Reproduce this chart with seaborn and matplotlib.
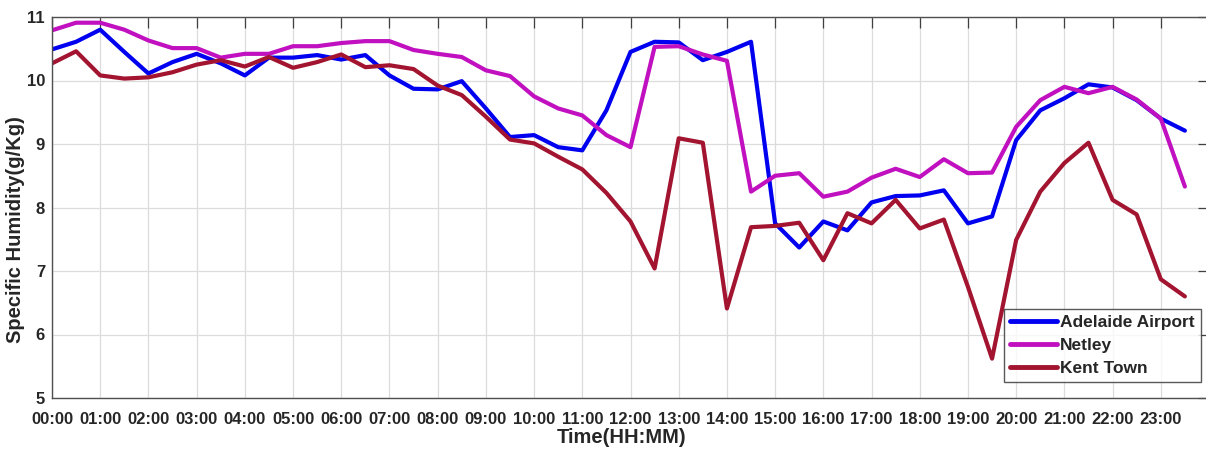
import numpy as np
import pandas as pd
import matplotlib
matplotlib.use('Agg')
import matplotlib.pyplot as plt
import seaborn as sns

# half-hourly readings, 00:00 .. 23:30
hours = np.arange(48) * 0.5

adelaide_airport = [10.49, 10.61, 10.80, 10.45, 10.11, 10.29, 10.42, 10.27, 10.08, 10.36,
                    10.36, 10.40, 10.33, 10.40, 10.08, 9.87, 9.86, 9.99, 9.56, 9.11,
                    9.14, 8.95, 8.90, 9.53, 10.45, 10.61, 10.60, 10.32, 10.45, 10.61,
                    7.75, 7.37, 7.78, 7.64, 8.08, 8.18, 8.19, 8.27, 7.75, 7.86,
                    9.06, 9.53, 9.72, 9.94, 9.89, 9.69, 9.40, 9.21]

netley = [10.79, 10.91, 10.91, 10.80, 10.63, 10.51, 10.51, 10.36, 10.42, 10.42,
          10.54, 10.54, 10.59, 10.62, 10.62, 10.48, 10.42, 10.37, 10.16, 10.07,
          9.75, 9.56, 9.45, 9.14, 8.95, 10.53, 10.54, 10.41, 10.31, 8.25,
          8.50, 8.54, 8.17, 8.25, 8.47, 8.61, 8.48, 8.76, 8.54, 8.55,
          9.27, 9.69, 9.90, 9.80, 9.90, 9.70, 9.40, 8.33]

kent_town = [10.27, 10.46, 10.08, 10.03, 10.05, 10.13, 10.25, 10.32, 10.22, 10.37,
             10.20, 10.29, 10.41, 10.21, 10.24, 10.18, 9.92, 9.77, 9.43, 9.07,
             9.01, 8.80, 8.60, 8.23, 7.78, 7.04, 9.09, 9.02, 6.41, 7.69,
             7.71, 7.76, 7.17, 7.91, 7.75, 8.12, 7.67, 7.81, 6.75, 5.62,
             7.49, 8.25, 8.70, 9.02, 8.12, 7.89, 6.87, 6.60]

stations = ['Adelaide Airport', 'Netley', 'Kent Town']
colors = ['#0000F0', '#C010C0', '#A2142F']
tick_labels = ['%02d:00' % h for h in range(24)]

df = pd.DataFrame({
    'time': np.tile(hours, 3),
    'humidity': adelaide_airport + netley + kent_town,
    'station': np.repeat(stations, len(hours)),
})

sns.set_style('white')
plt.rcParams['font.family'] = ['Liberation Sans', 'DejaVu Sans']
plt.rcParams['font.weight'] = 'bold'

W, H = 1206, 449
fig = plt.figure(figsize=(W / 100, H / 100), dpi=100)
# right spine sits just past the image edge, as in the reference crop
ax = fig.add_axes([52 / W, 1 - 398 / H, (1209 - 52) / W, (398 - 17) / H])

sns.lineplot(data=df, x='time', y='humidity', hue='station', hue_order=stations,
             palette=colors, linewidth=3.0, ax=ax)

ax.set_xlim(0, 24)
ax.set_ylim(5, 11)
ax.set_xticks(range(24))
ax.set_xticklabels(tick_labels)
ax.set_yticks(range(5, 12))
ax.grid(True, color='#dcdcdc', linewidth=0.9)
ax.tick_params(direction='in', length=8, width=0.9, color='#404040',
               top=True, right=True, labelsize=12)
ax.tick_params(axis='x', pad=10)
ax.tick_params(axis='y', pad=5)
for s in ax.spines.values():
    s.set_color('#505050')
    s.set_linewidth(1.0)

ax.set_xlabel('Time(HH:MM)', fontsize=14.5, fontweight='bold')
ax.set_ylabel('Specific Humidity(g/Kg)', fontsize=14.5, fontweight='bold')
ax.xaxis.set_label_coords(0.4927, -0.078)
ax.yaxis.set_label_coords(-0.0235, 0.443)

leg = ax.legend(loc='lower right', bbox_to_anchor=(1201 / W, 1 - 382 / H),
                bbox_transform=fig.transFigure, fontsize=12.5, frameon=True,
                fancybox=False, handlelength=2.7, handletextpad=0.2,
                borderpad=0.35, labelspacing=0.45, borderaxespad=0)
leg.get_frame().set_edgecolor('#303030')
leg.get_frame().set_linewidth(1.0)
for t in leg.get_texts():
    t.set_fontweight('bold')
for line in leg.get_lines():
    line.set_linewidth(3.5)

fig.savefig('out.png', dpi=100)
